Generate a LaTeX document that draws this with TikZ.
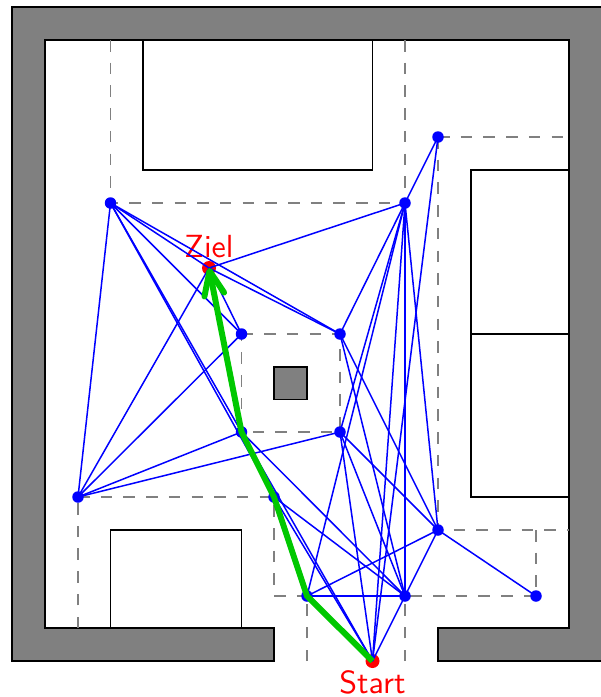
\documentclass[tikz,border=0pt]{standalone}
\usetikzlibrary{arrows.meta,backgrounds}
\tikzset{
  vtx/.style={circle,fill=blue,inner sep=0pt,minimum size=11.5pt,outer sep=0pt},
  endpt/.style={circle,fill=red,inner sep=0pt,minimum size=14pt,outer sep=0pt},
  wall/.style={draw=black,fill=gray,line width=1.5pt},
  room/.style={draw=black,fill=white,line width=1.5pt},
  grid line/.style={draw=gray,line width=1.5pt,dash pattern=on 11.5pt off 11.2pt},
  edge line/.style={draw=blue,line width=1.5pt},
  route/.style={draw={rgb,255:red,0;green,200;blue,0},line width=6pt,line join=round,-{Straight Barb[length=24pt,width=20pt,round]}},
  lab/.style={text=red,font=\sffamily,inner sep=0pt,scale=3.2}
}
\begin{document}
\begin{tikzpicture}[x=1pt,y=-1pt]
\path[use as bounding box] (0,0) rectangle (601,697);
\clip (0,0) rectangle (601,697);
\node[vtx] (A) at (110.5,203) {};
\node[vtx] (B) at (405,203) {};
\node[vtx] (C) at (438,137) {};
\node[endpt] (Z) at (209,268) {};
\node[vtx] (D) at (241.5,334) {};
\node[vtx] (E) at (340,334) {};
\node[vtx] (F) at (241.5,432) {};
\node[vtx] (G) at (340,432) {};
\node[vtx] (H) at (78,497) {};
\node[vtx] (I) at (274,497) {};
\node[vtx] (J) at (438,530) {};
\node[vtx] (K) at (307,596) {};
\node[vtx] (L) at (405,596) {};
\node[vtx] (M) at (536,596) {};
\node[endpt] (S) at (372.5,661) {};
\node[lab,anchor=base] (zl) at (209,257) {Ziel};
\node[lab,anchor=base] (sl) at (372.5,693) {Start};
\begin{pgfonlayer}{background}
\path[wall,even odd rule] (12,7) -- (610,7) -- (610,661) -- (438,661) -- (438,628) -- (569,628) -- (569,40) -- (45,40) -- (45,628) -- (274,628) -- (274,661) -- (12,661) -- cycle;
\coordinate (a1) at (110.5,40);
\coordinate (b1) at (405,40);
\coordinate (c1) at (569,137);
\coordinate (j1) at (569,530);
\coordinate (j2) at (536,530);
\coordinate (h1) at (78,628);
\coordinate (i1) at (274,596);
\coordinate (k1) at (307,661);
\coordinate (l1) at (405,661);
\draw[grid line] (a1) -- (A.center) -- (B.center);
\draw[grid line] (b1) -- (B.center);
\draw[grid line] (C.center) -- (c1);
\draw[grid line] (C.center) -- (J.center) -- (j1);
\draw[grid line] (j2) -- (M.center);
\draw[grid line] (D.center) -- (E.center) -- (G.center) -- (F.center) -- cycle;
\draw[grid line] (H.center) -- (I.center) -- (i1) -- (M.center);
\draw[grid line] (h1) -- (H.center);
\draw[grid line] (k1) -- (K.center);
\draw[grid line] (l1) -- (L.center);
\draw[room] (143,40) rectangle (372.5,170);
\draw[room] (471,170) rectangle (569,334);
\draw[room] (471,334) rectangle (569,497);
\draw[room] (110.5,530) rectangle (241.5,628);
\draw[wall] (274,367) rectangle (307,399.5);
\end{pgfonlayer}
\foreach \u/\v in {A/H,A/Z,A/E,A/D,A/F,A/I,F/S,
  H/Z,H/D,H/F,H/G,
  Z/E,Z/D,Z/B,
  B/C,B/E,B/G,B/K,B/S,B/L,B/J,
  C/S,
  E/L,E/J,
  G/S,G/L,G/J,
  F/L,
  I/L,I/S,I/K,
  J/K,J/L,J/M,
  K/L,K/S,L/S}
  \draw[edge line] (\u.center) -- (\v.center);
\draw[route] (S.center) -- (K.center) -- (I.center) -- (F.center) -- (Z.center);
\end{tikzpicture}
\end{document}
